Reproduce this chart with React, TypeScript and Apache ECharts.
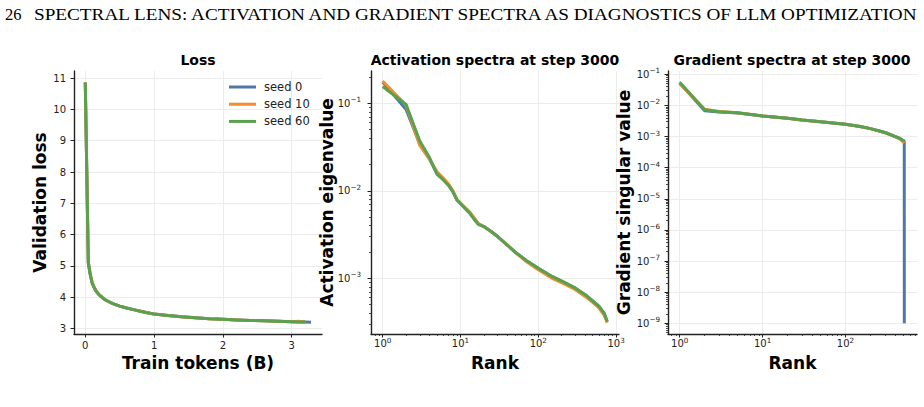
import React, { useEffect, useRef } from "react";
import * as echarts from "echarts";

// ---------- data ----------
const seedNames = ["seed 0", "seed 10", "seed 60"];
const seedColors = ["#4e79a7", "#f28e2b", "#59a14f"];

// Loss panel
const lossTokens = [0, 0.044, 0.07, 0.1, 0.13, 0.16, 0.2, 0.25, 0.3, 0.4, 0.5, 0.6, 0.7, 0.8, 0.9, 1.0, 1.2, 1.4, 1.6, 1.8, 2.0, 2.2, 2.4, 2.6, 2.8, 3.0, 3.1, 3.2, 3.28];
const lossSeed0 = [10.86, 5.1, 4.75, 4.45, 4.3, 4.18, 4.08, 3.98, 3.9, 3.79, 3.71, 3.65, 3.6, 3.55, 3.5, 3.46, 3.41, 3.37, 3.34, 3.31, 3.29, 3.27, 3.255, 3.24, 3.225, 3.21, 3.205, 3.2, 3.195];
const lossSeed10 = [10.86, 5.12, 4.76, 4.46, 4.31, 4.19, 4.08, 3.98, 3.9, 3.79, 3.71, 3.65, 3.6, 3.55, 3.5, 3.46, 3.41, 3.37, 3.34, 3.31, 3.29, 3.27, 3.255, 3.24, 3.225, 3.21, 3.225, 3.2, null];
const lossSeed60 = [10.86, 5.1, 4.74, 4.45, 4.3, 4.18, 4.07, 3.98, 3.9, 3.79, 3.71, 3.65, 3.6, 3.55, 3.5, 3.46, 3.41, 3.37, 3.34, 3.31, 3.29, 3.27, 3.255, 3.24, 3.225, 3.21, 3.205, 3.2, null];
const lossXTicks = [0, 1, 2, 3];
const lossYTicks = [3, 4, 5, 6, 7, 8, 9, 10, 11];

// Activation spectra
const actRanks = [1, 2, 3, 4, 5, 6, 7, 8, 9, 10, 12, 13, 15, 17, 20, 25, 30, 40, 50, 70, 100, 150, 200, 300, 400, 500, 600, 700, 768];
const actSeed0 = [0.175, 0.085, 0.034, 0.023, 0.0155, 0.0135, 0.0118, 0.0098, 0.0079, 0.0072, 0.0061, 0.0057, 0.0048, 0.0042, 0.0039, 0.0034, 0.003, 0.0024, 0.002, 0.0016, 0.0013, 0.00105, 0.00093, 0.00077, 0.00065, 0.00055, 0.00048, 0.0004, 0.00032];
const actSeed10 = [0.18, 0.095, 0.033, 0.023, 0.0165, 0.014, 0.012, 0.01, 0.008, 0.0073, 0.0062, 0.0058, 0.0049, 0.0042, 0.0039, 0.0034, 0.003, 0.0024, 0.002, 0.00155, 0.00125, 0.001, 0.00089, 0.00074, 0.00062, 0.00053, 0.00046, 0.00038, 0.00031];
const actSeed60 = [0.155, 0.097, 0.037, 0.024, 0.0155, 0.0133, 0.0115, 0.0097, 0.0078, 0.0071, 0.006, 0.0056, 0.0047, 0.0041, 0.0039, 0.0034, 0.003, 0.0024, 0.002, 0.0016, 0.0013, 0.00105, 0.00093, 0.00077, 0.00065, 0.00055, 0.00048, 0.0004, 0.00032];
const actXTicks = [1, 10, 100, 1000];
const actYTicks = [0.001, 0.01, 0.1];

// Gradient spectra
const gradRanks = [1, 2, 3, 5, 10, 20, 30, 50, 100, 150, 200, 300, 400, 450, 511, 512];
const gradSeed0 = [0.053, 0.0068, 0.0062, 0.0057, 0.0046, 0.0039, 0.0034, 0.003, 0.0025, 0.0021, 0.0018, 0.00135, 0.001, 0.00087, 0.0007, 1e-9];
const gradSeed10 = [0.05, 0.0075, 0.0064, 0.0058, 0.0046, 0.0039, 0.0034, 0.003, 0.0025, 0.0021, 0.0018, 0.00133, 0.00098, 0.00084, 0.00062, null];
const gradSeed60 = [0.056, 0.0072, 0.0063, 0.0058, 0.0046, 0.0039, 0.0034, 0.003, 0.0025, 0.0021, 0.0018, 0.00135, 0.001, 0.00087, 0.00072, null];
const gradXTicks = [1, 10, 100];
const gradYTicks = [1e-9, 1e-8, 1e-7, 1e-6, 1e-5, 1e-4, 1e-3, 1e-2, 1e-1];

// ---------- helpers ----------
const powLabel = (v: number) => {
  const e = Math.round(Math.log10(v));
  const exp = e < 0 ? "\u2212" + String(-e) : String(e);
  return "{b|10}{s|" + exp + "}";
};
const minorTicks = (lo: number, hi: number) => {
  const out: number[] = [];
  for (let k = -12; k <= 4; k++) {
    for (let d = 2; d <= 9; d++) {
      const v = k >= 0 ? d * Math.pow(10, k) : d / Math.pow(10, -k);
      if (v > lo && v < hi) out.push(v);
    }
  }
  return out;
};
const pairs = (xs: number[], ys: (number | null)[]) =>
  xs.map((x, i) => [x, ys[i]]).filter((p) => p[1] !== null && p[1] !== undefined);

const INK = "#222";
const FONT = "DejaVu Sans";
const GRIDLINE = "#ececec";

const spine = { show: true, onZero: false, lineStyle: { color: INK, width: 1.4 } };
const powRich = {
  b: { fontSize: 10, fontFamily: FONT, color: INK, lineHeight: 11 },
  s: { fontSize: 7.2, fontFamily: FONT, color: INK, lineHeight: 8, padding: [0, 0, 7, 0] },
};
const tickLabel = (margin: number, extra: any = {}) => ({
  show: true,
  margin,
  color: INK,
  fontSize: 10,
  fontFamily: FONT,
  ...extra,
});
const axisName = { fontSize: 17, fontWeight: "bold", color: "#000", fontFamily: FONT };

function majorAxis(o: any) {
  return {
    nameMoveOverlap: false,
    axisLine: spine,
    splitLine: { show: true, lineStyle: { color: GRIDLINE, width: 1 } },
    ...o,
  };
}
function minorAxis(o: any) {
  return {
    axisLine: { show: false, onZero: false },
    axisLabel: { show: false },
    splitLine: { show: false },
    ...o,
  };
}

const actXMin = 0.708, actXMax = 1089, actYMin = 2.307e-4, actYMax = 0.2339;
const gradXMin = 0.723, gradXMax = 728, gradYMin = 4.53e-10, gradYMax = 0.1276;

const xAxes = [
  majorAxis({
    gridIndex: 0, type: "value", min: -0.164, max: 3.44, position: "bottom",
    axisTick: { show: true, length: 3.5, lineStyle: { color: INK, width: 1 }, customValues: lossXTicks },
    axisLabel: tickLabel(6, { customValues: lossXTicks }),
    name: "Train tokens (B)", nameLocation: "middle", nameGap: 20, nameTextStyle: axisName,
  }),
  majorAxis({
    gridIndex: 1, type: "log", min: actXMin, max: actXMax, position: "bottom",
    axisTick: { show: true, length: 3.5, lineStyle: { color: INK, width: 1 }, customValues: actXTicks },
    axisLabel: tickLabel(4, { customValues: actXTicks, formatter: powLabel, rich: powRich }),
    name: "Rank", nameLocation: "middle", nameGap: 20, nameTextStyle: axisName,
  }),
  minorAxis({
    gridIndex: 1, type: "log", min: actXMin, max: actXMax, position: "bottom",
    axisTick: { show: true, length: 2, lineStyle: { color: INK, width: 0.8 }, customValues: minorTicks(actXMin, actXMax) },
  }),
  majorAxis({
    gridIndex: 2, type: "log", min: gradXMin, max: gradXMax, position: "bottom",
    axisTick: { show: true, length: 3.5, lineStyle: { color: INK, width: 1 }, customValues: gradXTicks },
    axisLabel: tickLabel(4, { customValues: gradXTicks, formatter: powLabel, rich: powRich }),
    name: "Rank", nameLocation: "middle", nameGap: 20, nameTextStyle: axisName,
  }),
  minorAxis({
    gridIndex: 2, type: "log", min: gradXMin, max: gradXMax, position: "bottom",
    axisTick: { show: true, length: 2, lineStyle: { color: INK, width: 0.8 }, customValues: minorTicks(gradXMin, gradXMax) },
  }),
];

const yAxes = [
  majorAxis({
    gridIndex: 0, type: "value", min: 2.82, max: 11.23, position: "left",
    axisTick: { show: true, length: 3.5, lineStyle: { color: INK, width: 1 }, customValues: lossYTicks },
    axisLabel: tickLabel(8, { customValues: lossYTicks }),
    name: "Validation loss", nameLocation: "middle", nameGap: 26, nameRotate: 90, nameTextStyle: axisName,
  }),
  majorAxis({
    gridIndex: 1, type: "log", min: actYMin, max: actYMax, position: "left",
    axisTick: { show: true, length: 3.5, lineStyle: { color: INK, width: 1 }, customValues: actYTicks },
    axisLabel: tickLabel(10, { customValues: actYTicks, formatter: powLabel, rich: powRich }),
    name: "Activation eigenvalue", nameLocation: "middle", nameGap: 36, nameRotate: 90, nameTextStyle: axisName,
  }),
  minorAxis({
    gridIndex: 1, type: "log", min: actYMin, max: actYMax, position: "left",
    axisTick: { show: true, length: 2, lineStyle: { color: INK, width: 0.8 }, customValues: minorTicks(actYMin, actYMax) },
  }),
  majorAxis({
    gridIndex: 2, type: "log", min: gradYMin, max: gradYMax, position: "left",
    axisTick: { show: true, length: 3.5, lineStyle: { color: INK, width: 1 }, customValues: gradYTicks },
    axisLabel: tickLabel(8, { customValues: gradYTicks, formatter: powLabel, rich: powRich }),
    name: "Gradient singular value", nameLocation: "middle", nameGap: 36, nameRotate: 90, nameTextStyle: axisName,
  }),
  minorAxis({
    gridIndex: 2, type: "log", min: gradYMin, max: gradYMax, position: "left",
    axisTick: { show: true, length: 2, lineStyle: { color: INK, width: 0.8 }, customValues: minorTicks(gradYMin, gradYMax) },
  }),
];

const panels = [
  { xi: 0, yi: 0, xs: lossTokens, ys: [lossSeed0, lossSeed10, lossSeed60] },
  { xi: 1, yi: 1, xs: actRanks, ys: [actSeed0, actSeed10, actSeed60] },
  { xi: 3, yi: 3, xs: gradRanks, ys: [gradSeed0, gradSeed10, gradSeed60] },
];

const series: any[] = [];
panels.forEach((p) => {
  p.ys.forEach((ys, s) => {
    series.push({
      type: "line",
      name: seedNames[s],
      xAxisIndex: p.xi,
      yAxisIndex: p.yi,
      data: pairs(p.xs, ys as (number | null)[]),
      showSymbol: false,
      symbol: "none",
      lineStyle: { width: 3, color: seedColors[s], join: "round" },
      itemStyle: { color: seedColors[s] },
      z: 3 + s,
    });
  });
});

const titleFont = `bold 14px "${FONT}"`;
const headerFont = '16.5px "Liberation Serif"';

const option: any = {
  animation: false,
  backgroundColor: "#ffffff",
  grid: [
    { left: 74, top: 71, width: 248, height: 263, outerBoundsMode: "none", containLabel: false },
    { left: 371, top: 71, width: 248, height: 263, outerBoundsMode: "none", containLabel: false },
    { left: 668, top: 71, width: 249, height: 263, outerBoundsMode: "none", containLabel: false },
  ],
  xAxis: xAxes,
  yAxis: yAxes,
  legend: {
    data: seedNames.map((n) => ({ name: n, icon: "rect" })),
    orient: "vertical",
    left: 229,
    top: 81,
    padding: 0,
    itemWidth: 27,
    itemHeight: 3,
    itemGap: 5.2,
    textStyle: { fontSize: 11.5, lineHeight: 12, color: INK, fontFamily: FONT, padding: [0, 0, 0, 3] },
  },
  graphic: [
    { type: "text", x: 5, y: 14, style: { text: "26", font: headerFont, fill: "#000", verticalAlign: "middle" } },
    { type: "text", x: 34, y: 14, scaleX: 1.164, style: { text: "SPECTRAL LENS: ACTIVATION AND GRADIENT SPECTRA AS DIAGNOSTICS OF LLM OPTIMIZATION", font: headerFont, fill: "#000", verticalAlign: "middle" } },
    { type: "text", x: 198, y: 60, style: { text: "Loss", font: titleFont, fill: "#000", align: "center", verticalAlign: "middle" } },
    { type: "text", x: 495, y: 60, style: { text: "Activation spectra at step 3000", font: titleFont, fill: "#000", align: "center", verticalAlign: "middle" } },
    { type: "text", x: 792, y: 60, style: { text: "Gradient spectra at step 3000", font: titleFont, fill: "#000", align: "center", verticalAlign: "middle" } },
  ],
  series,
};

export default function App() {
  const ref = useRef<HTMLDivElement>(null);
  useEffect(() => {
    if (!ref.current) return;
    const chart = echarts.init(ref.current, null, { renderer: "svg" });
    chart.setOption(option);
    return () => chart.dispose();
  }, []);
  return (
    <div
      ref={ref}
      style={{ position: "absolute", left: 0, top: 0, width: 924, height: 407, background: "#fff" }}
    />
  );
}
